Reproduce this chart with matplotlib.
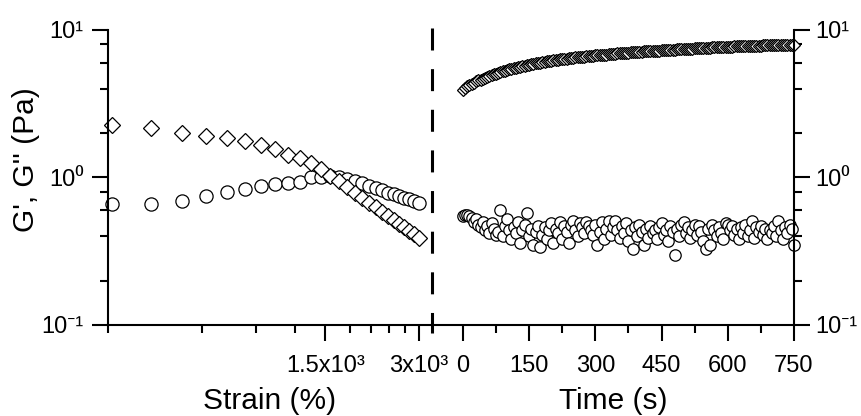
import matplotlib
matplotlib.use("Agg")
import matplotlib.pyplot as plt
from matplotlib.lines import Line2D
from matplotlib.ticker import FixedLocator, NullFormatter

plt.rcParams['font.family'] = ['Liberation Sans', 'Noto Sans', 'DejaVu Sans']

# amplitude sweep (left panel)
strain = [310, 414, 517, 621, 724, 828, 931, 1035, 1138, 1242, 1345, 1449, 1552, 1656,
          1759, 1863, 1966, 2070, 2173, 2277, 2380, 2484, 2587, 2690, 2794, 2897, 3000]
g1_strain = [2.28, 2.17, 2.00, 1.90, 1.85, 1.76, 1.67, 1.55, 1.43, 1.36, 1.26, 1.14, 1.03, 0.94,
             0.86, 0.79, 0.73, 0.675, 0.63, 0.586, 0.55, 0.516, 0.486, 0.46, 0.434, 0.411, 0.39]
g2_strain = [0.66, 0.66, 0.69, 0.75, 0.80, 0.84, 0.87, 0.90, 0.92, 0.93, 1.00, 1.01, 1.02, 1.00,
             0.98, 0.95, 0.92, 0.88, 0.85, 0.82, 0.79, 0.77, 0.75, 0.73, 0.71, 0.69, 0.67]

# time sweep (right panel), one point every 5 s
time_s = list(range(0, 751, 5))
g1_time = [3.93, 4.04, 4.14, 4.23, 4.32, 4.40, 4.48, 4.55, 4.61, 4.67,
           4.72, 4.80, 4.87, 4.94, 5.00, 5.07, 5.13, 5.19, 5.25, 5.30,
           5.35, 5.41, 5.46, 5.51, 5.56, 5.61, 5.65, 5.70, 5.74, 5.78,
           5.82, 5.86, 5.90, 5.94, 5.98, 6.02, 6.06, 6.09, 6.13, 6.17,
           6.20, 6.23, 6.26, 6.29, 6.32, 6.35, 6.37, 6.40, 6.43, 6.46,
           6.48, 6.51, 6.53, 6.56, 6.58, 6.60, 6.63, 6.65, 6.67, 6.70,
           6.72, 6.74, 6.76, 6.78, 6.80, 6.82, 6.85, 6.87, 6.89, 6.91,
           6.93, 6.95, 6.97, 6.99, 7.01, 7.03, 7.04, 7.06, 7.08, 7.10,
           7.12, 7.14, 7.15, 7.17, 7.18, 7.20, 7.22, 7.23, 7.25, 7.26,
           7.28, 7.30, 7.31, 7.33, 7.34, 7.36, 7.37, 7.39, 7.40, 7.42,
           7.43, 7.44, 7.46, 7.47, 7.49, 7.50, 7.51, 7.53, 7.54, 7.56,
           7.57, 7.58, 7.60, 7.61, 7.62, 7.64, 7.65, 7.66, 7.68, 7.69,
           7.70, 7.71, 7.72, 7.73, 7.74, 7.75, 7.76, 7.77, 7.78, 7.79,
           7.80, 7.81, 7.82, 7.82, 7.83, 7.84, 7.85, 7.86, 7.86, 7.87,
           7.88, 7.89, 7.89, 7.90, 7.91, 7.91, 7.92, 7.93, 7.93, 7.94,
           7.95]
g2_time = [0.55, 0.56, 0.56, 0.55, 0.53, 0.50, 0.52, 0.48, 0.46, 0.50,
           0.44, 0.47, 0.42, 0.49, 0.45, 0.41, 0.43, 0.60, 0.40, 0.47,
           0.52, 0.44, 0.38, 0.46, 0.42, 0.50, 0.36, 0.44, 0.48, 0.57,
           0.40, 0.45, 0.35, 0.43, 0.47, 0.34, 0.41, 0.46, 0.38, 0.44,
           0.49, 0.36, 0.45, 0.42, 0.50, 0.38, 0.47, 0.43, 0.36, 0.48,
           0.51, 0.44, 0.40, 0.49, 0.46, 0.42, 0.50, 0.47, 0.44, 0.41,
           0.48, 0.35, 0.43, 0.50, 0.38, 0.45, 0.51, 0.41, 0.46, 0.51,
           0.44, 0.39, 0.47, 0.42, 0.49, 0.37, 0.44, 0.33, 0.46, 0.40,
           0.48, 0.43, 0.35, 0.45, 0.39, 0.47, 0.42, 0.44, 0.38, 0.46,
           0.49, 0.41, 0.44, 0.37, 0.47, 0.43, 0.30, 0.45, 0.40, 0.48,
           0.50, 0.42, 0.46, 0.39, 0.44, 0.48, 0.41, 0.47, 0.43, 0.37,
           0.33, 0.45, 0.35, 0.48, 0.44, 0.40, 0.46, 0.42, 0.38, 0.49,
           0.48, 0.44, 0.47, 0.41, 0.45, 0.38, 0.46, 0.42, 0.48, 0.40,
           0.44, 0.51, 0.39, 0.46, 0.43, 0.47, 0.41, 0.45, 0.38, 0.44,
           0.42, 0.47, 0.40, 0.51, 0.44, 0.38, 0.46, 0.42, 0.48, 0.45,
           0.35]

y_ticks = [0.1, 1, 10]
y_ticklabels = ['10\u207b\u00b9', '10\u2070', '10\u00b9']
y_minor = [0.2, 0.4, 0.6, 0.8, 2, 4, 6, 8]
strain_ticks = [1500, 3000]
strain_ticklabels = ['1.5x10\u00b3', '3x10\u00b3']
strain_minor = [300, 600, 900, 1200, 1800, 2100, 2400, 2700]
time_ticks = [0, 150, 300, 450, 600, 750]
time_minor = [75, 225, 375, 525, 675]

tick_fs = 17
label_fs = 21.5

fig = plt.figure(figsize=(8.61, 4.16), dpi=100)
ax1 = fig.add_axes([0.1254, 0.2188, 0.3763, 0.7091])
ax2 = fig.add_axes([0.5017, 0.2188, 0.4204, 0.7091])

mk = dict(mfc='white', mec='black', mew=0.9, ls='none', clip_on=False)

# left: strain sweep
ax1.set_xscale('log')
ax1.set_yscale('log')
ax1.plot(strain, g2_strain, 'o', ms=9.5, **mk)
ax1.plot(strain, g1_strain, 'D', ms=7.8, **mk)
ax1.set_xlim(300, 3300)
ax1.set_ylim(0.1, 10)
ax1.xaxis.set_major_locator(FixedLocator(strain_ticks))
ax1.set_xticklabels(strain_ticklabels)
ax1.xaxis.set_minor_locator(FixedLocator(strain_minor))
ax1.xaxis.set_minor_formatter(NullFormatter())
ax1.yaxis.set_major_locator(FixedLocator(y_ticks))
ax1.set_yticklabels(y_ticklabels)
ax1.yaxis.set_minor_locator(FixedLocator(y_minor))
ax1.yaxis.set_minor_formatter(NullFormatter())
ax1.spines['top'].set_visible(False)
ax1.spines['right'].set_visible(False)
ax1.set_xlabel('Strain (%)', fontsize=label_fs, labelpad=7)
ax1.set_ylabel("G', G'' (Pa)", fontsize=label_fs)
ax1.yaxis.set_label_coords(-0.21, 0.56)

# right: time sweep
ax2.set_yscale('log')
ax2.plot(time_s, g2_time, 'o', ms=8.2, **mk)
ax2.plot(time_s, g1_time, 'D', ms=6.6, **mk)
ax2.set_xlim(-70, 750)
ax2.set_ylim(0.1, 10)
ax2.xaxis.set_major_locator(FixedLocator(time_ticks))
ax2.xaxis.set_minor_locator(FixedLocator(time_minor))
ax2.yaxis.tick_right()
ax2.yaxis.set_major_locator(FixedLocator(y_ticks))
ax2.set_yticklabels(y_ticklabels)
ax2.yaxis.set_minor_locator(FixedLocator(y_minor))
ax2.yaxis.set_minor_formatter(NullFormatter())
ax2.spines['top'].set_visible(False)
ax2.spines['left'].set_visible(False)
ax2.set_xlabel('Time (s)', fontsize=label_fs, labelpad=7)

for ax in (ax1, ax2):
    for s in ax.spines.values():
        s.set_linewidth(1.5)
    ax.tick_params(which='major', direction='out', length=11.5, width=1.5,
                   labelsize=tick_fs, pad=6)
    ax.tick_params(which='minor', direction='out', length=5.8, width=1.5)
    ax.tick_params(axis='x', which='major', pad=10)
ax2.tick_params(axis='y', which='major', pad=4)

# dashed separator between the two sweeps
x_sep = 0.5017
fig.add_artist(Line2D([x_sep, x_sep], [0.9327, 0.1995], transform=fig.transFigure,
                      color='black', lw=2.2, linestyle=(0, (7.2, 6.1)),
                      dash_capstyle='butt'))

fig.savefig('out.png', dpi=100)
